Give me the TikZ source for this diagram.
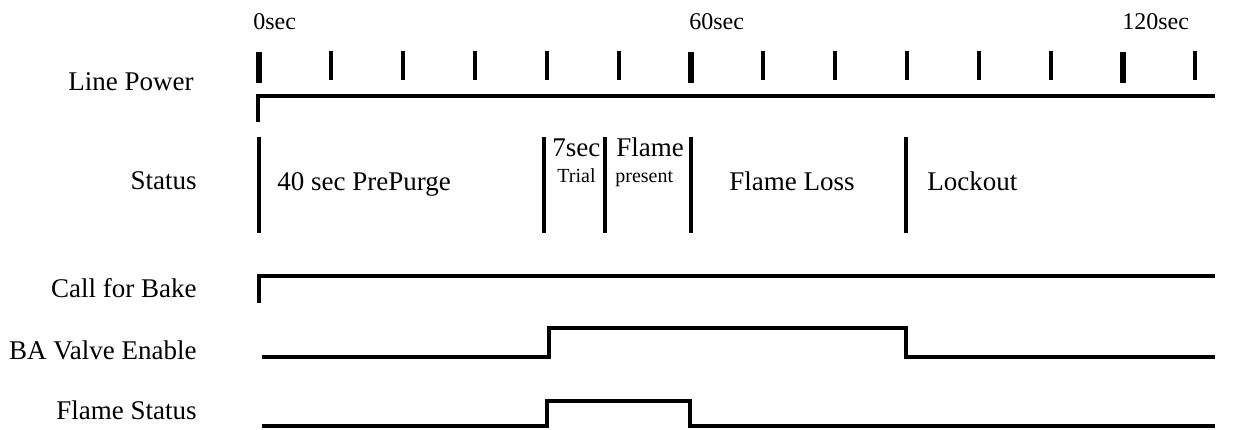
\documentclass[tikz,border=0pt]{standalone}
\usepackage{fontspec}
\setmainfont{Liberation Serif}
\usetikzlibrary{positioning, calc}

\begin{document}
\begin{tikzpicture}[x=0.5pt, y=-0.5pt, font=\fontsize{13.5}{15}\selectfont,
    sig/.style={line width=1.7pt},
    minortick/.style={line width=1.6pt},
    majortick/.style={line width=3pt},
    divider/.style={line width=1.6pt},
    lbl/.style={anchor=east, inner sep=0pt},
    txt/.style={anchor=base west, inner sep=0pt},
    small/.style={txt, font=\fontsize{10}{11}\selectfont},
    timelbl/.style={txt, font=\fontsize{12}{14}\selectfont}]
    \useasboundingbox (0,0) rectangle (1238,429);

    % Time axis
    \node [timelbl] (t0) at (253,29) {0sec};
    \node [timelbl] (t60) at (689,29) {60sec};
    \node [timelbl] (t120) at (1122,29) {120sec};
    \foreach \i in {1,...,5,7,8,...,11,13}
        \draw [minortick] ({259+72*\i},51) -- ++(0,29);
    \foreach \i in {0,6,12}
        \draw [majortick] ({259+72*\i},52) -- ++(0,31);

    % Signal names
    \node [lbl] (power) at (194,82) {Line Power};
    \node [lbl] (status) at (197,181) {Status};
    \node [lbl] (bake) at (197,288) {Call for Bake};
    \node [lbl] (valve) at (197,350) {BA Valve Enable};
    \node [lbl] (flame) at (197,410) {Flame Status};

    % Line power
    \draw [sig] (258,122) -- (258,96) -- (1215,96);

    % Status phases
    \foreach \x in {259,544,605,691,906}
        \draw [divider] (\x,137) -- (\x,233);
    \node [txt] (purge) at (277,190) {40 sec PrePurge};
    \node [txt] (trial) at (552,156) {7sec};
    \node [small] (trialsub) at (557,182) {Trial};
    \node [txt] (present) at (616,156) {Flame};
    \node [small] (presentsub) at (615,182) {present};
    \node [txt] (loss) at (729,190) {Flame Loss};
    \node [txt] (lock) at (927,190) {Lockout};

    % Call for bake
    \draw [sig] (259,303) -- (259,276) -- (1215,276);

    % BA valve enable
    \draw [sig] (262,357) -- (549,357) -- (549,328) -- (906,328)
        -- (906,357) -- (1215,357);

    % Flame status
    \draw [sig] (262,426) -- (547,426) -- (547,401) -- (690,401)
        -- (690,426) -- (1215,426);

\end{tikzpicture}
\end{document}
